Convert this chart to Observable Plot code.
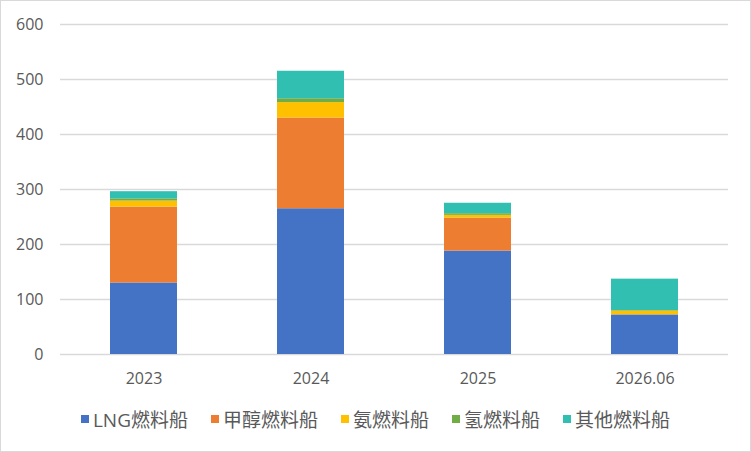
<!DOCTYPE html>
<html>
<head>
<meta charset="utf-8">
<script src="https://cdn.jsdelivr.net/npm/d3@7"></script>
<script src="https://cdn.jsdelivr.net/npm/@observablehq/plot@0.6"></script>
<style>
  html, body { margin: 0; padding: 0; background: #fff; }
  #wrap { position: relative; width: 751px; height: 452px; overflow: hidden; background: #fff; }
  #frame { position: absolute; left: 0; top: 0; width: 751px; height: 452px; box-sizing: border-box; border: 1.5px solid #d9d9d9; pointer-events: none; }
  #chart { position: absolute; left: 0; top: 0; }
  #legend { position: absolute; left: 0; top: 405px; width: 751px; height: 28px; display: flex; justify-content: center; align-items: center; gap: 23px;
    font-family: "Open Sans", "Noto Sans CJK SC", sans-serif; font-size: 19px; color: #595959; }
  .item { display: flex; align-items: center; white-space: nowrap; }
  .sw { width: 8px; height: 8px; margin-right: 4px; display: inline-block; }
</style>
</head>
<body>
<div id="wrap">
  <div id="chart"></div>
  <div id="legend"></div>
  <div id="frame"></div>
</div>
<script>
const years = ["2023", "2024", "2025", "2026.06"];
const seriesNames = ["LNG燃料船", "甲醇燃料船", "氨燃料船", "氢燃料船", "其他燃料船"];
const lngValues = [130, 265, 188, 72];
const methanolValues = [138, 165, 60, 0];
const ammoniaValues = [11, 28, 5, 7];
const hydrogenValues = [4, 7, 3, 1];
const otherValues = [13, 50, 19, 57];
const colors = ["#4472C4", "#ED7D31", "#FFC000", "#70AD47", "#31BFB1"];
const yTicks = [0, 100, 200, 300, 400, 500, 600];

const seriesValues = [lngValues, methanolValues, ammoniaValues, hydrogenValues, otherValues];
const data = [];
years.forEach((yr, i) => {
  seriesNames.forEach((s, j) => {
    data.push({year: yr, series: s, value: seriesValues[j][i]});
  });
});

const chart = Plot.plot({
  width: 751,
  height: 400,
  marginLeft: 60,
  marginRight: 23,
  marginTop: 24,
  marginBottom: 46,
  style: {fontFamily: '"Open Sans", "Noto Sans CJK SC", sans-serif', fontSize: "16px", color: "#595959", background: "transparent"},
  x: {domain: years, paddingInner: 0.6, paddingOuter: 0.3, label: null},
  y: {domain: [0, 600], label: null},
  color: {domain: seriesNames, range: colors},
  marks: [
    Plot.gridY(yTicks, {stroke: "#d9d9d9", strokeOpacity: 1, strokeWidth: 1.5}),
    Plot.barY(data, {x: "year", y: "value", z: "series", fill: "series"}),
    Plot.axisY(yTicks, {tickSize: 0, tickPadding: 17, label: null, fontSize: 16}),
    Plot.axisX({tickSize: 0, tickPadding: 18, label: null, fontSize: 16})
  ]
});
document.getElementById("chart").appendChild(chart);

const legend = document.getElementById("legend");
seriesNames.forEach((s, j) => {
  const item = document.createElement("div");
  item.className = "item";
  const sw = document.createElement("span");
  sw.className = "sw";
  sw.style.background = colors[j];
  const t = document.createElement("span");
  t.textContent = s;
  item.appendChild(sw);
  item.appendChild(t);
  legend.appendChild(item);
});
</script>
</body>
</html>
